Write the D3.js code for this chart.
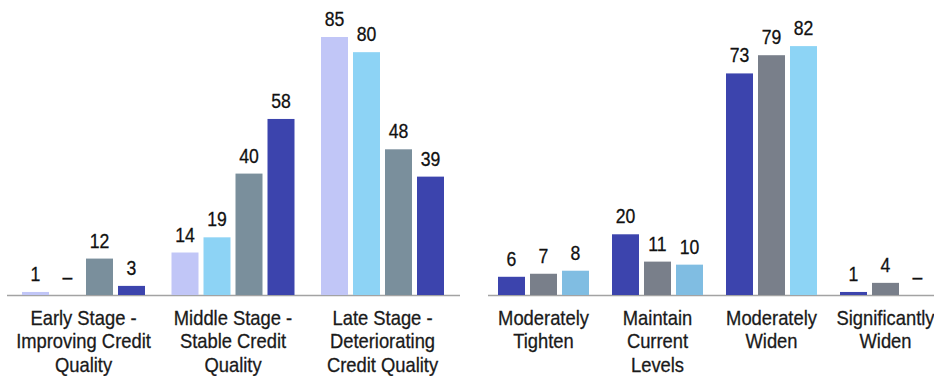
<!DOCTYPE html>
<html>
<head>
<meta charset="utf-8">
<script src="https://cdn.jsdelivr.net/npm/d3@7"></script>
<style>
  html, body { margin: 0; padding: 0; background: #fff; }
  svg { display: block; }
  text { font-family: "Liberation Sans", Arial, sans-serif; }
</style>
</head>
<body>
<svg id="chart" width="934" height="376"></svg>
<script>
// Left panel: credit cycle stage
const stageCategories = [
  ["Early Stage -", "Improving Credit", "Quality"],
  ["Middle Stage -", "Stable Credit", "Quality"],
  ["Late Stage -", "Deteriorating", "Credit Quality"]
];
const stageSeries = ["s1", "s2", "s3", "s4"];
const stageValues = [
  [1, 14, 85],
  [0, 19, 80],
  [12, 40, 48],
  [3, 58, 39]
];
const stageColors = ["#c1c6f7", "#8dd3f5", "#7a8f9c", "#3c44ad"];

// Right panel: spread outlook
const spreadCategories = [
  ["Moderately", "Tighten"],
  ["Maintain", "Current", "Levels"],
  ["Moderately", "Widen"],
  ["Significantly", "Widen"]
];
const spreadSeries = ["s1", "s2", "s3"];
const spreadValues = [
  [6, 20, 73, 1],
  [7, 11, 79, 4],
  [8, 10, 82, 0]
];
const spreadColors = [
  ["#3c44ad", "#3c44ad", "#3c44ad", "#3c44ad"],
  ["#797f8a", "#797f8a", "#797f8a", "#797f8a"],
  ["#80bde2", "#80bde2", "#8dd4f5", "#8dd4f5"]
];

const svg = d3.select("#chart");
const baseY = 295;
const y = d3.scaleLinear().domain([0, 85]).range([baseY, 37]);
// narrow type: regular sans squeezed horizontally
const narrowValue = 0.84;
const narrowLabel = 0.875;

function panel(cfg) {
  const cats = cfg.categories.map((_, i) => i);
  const x0 = d3.scaleBand().domain(cats).range(cfg.range)
    .paddingInner(cfg.padInner).paddingOuter(cfg.padInner / 2);
  const x1 = d3.scaleBand().domain(cfg.series.map((_, i) => i))
    .range([0, x0.bandwidth()]).paddingInner(5 / 32).paddingOuter(0);

  const g = svg.append("g");

  // baseline
  g.append("line")
    .attr("x1", cfg.lineExtent[0]).attr("x2", cfg.lineExtent[1])
    .attr("y1", baseY + 0.5).attr("y2", baseY + 0.5)
    .attr("stroke", "#a3a3a3").attr("stroke-width", 1.5);

  cfg.series.forEach((s, si) => {
    const pts = cats.map(ci => ({ ci, v: cfg.values[si][ci], color: cfg.color(si, ci) }));
    g.selectAll(null).data(pts.filter(d => d.v > 0)).join("rect")
      .attr("x", d => x0(d.ci) + x1(si))
      .attr("y", d => y(d.v))
      .attr("width", x1.bandwidth())
      .attr("height", d => y(0) - y(d.v))
      .attr("fill", d => d.color);
    g.selectAll(null).data(pts).join("text")
      .attr("transform", d => `translate(${x0(d.ci) + x1(si) + x1.bandwidth() / 2},${y(d.v) - 11}) scale(${narrowValue},1)`)
      .attr("text-anchor", "middle")
      .attr("font-size", 21)
      .attr("fill", "#111")
      .attr("stroke", "#111").attr("stroke-width", 0.3)
      .text(d => d.v > 0 ? d.v : "–");
  });

  // category labels
  const axis = d3.axisBottom(x0).tickSize(0).tickFormat("");
  const ax = g.append("g").attr("transform", `translate(0,${baseY})`).call(axis);
  ax.select(".domain").remove();
  ax.selectAll(".tick text").remove();
  ax.selectAll(".tick").append("text")
    .attr("transform", `scale(${narrowLabel},1)`)
    .attr("text-anchor", "middle")
    .attr("font-size", 21)
    .attr("fill", "#1a1a1a")
    .attr("stroke", "#1a1a1a").attr("stroke-width", 0.3)
    .selectAll("tspan").data(d => cfg.categories[d]).join("tspan")
      .attr("x", 0)
      .attr("y", (d, i) => 30 + i * 23.5)
      .text(d => d);
}

panel({
  categories: stageCategories, series: stageSeries, values: stageValues,
  color: (si) => stageColors[si],
  range: [8.75, 457.25], padInner: 26.5 / 149.5, lineExtent: [7, 460]
});

panel({
  categories: spreadCategories, series: spreadSeries, values: spreadValues,
  color: (si, ci) => spreadColors[si][ci],
  range: [486.5, 942.5], padInner: 23 / 114, lineExtent: [488, 934]
});
</script>
</body>
</html>
